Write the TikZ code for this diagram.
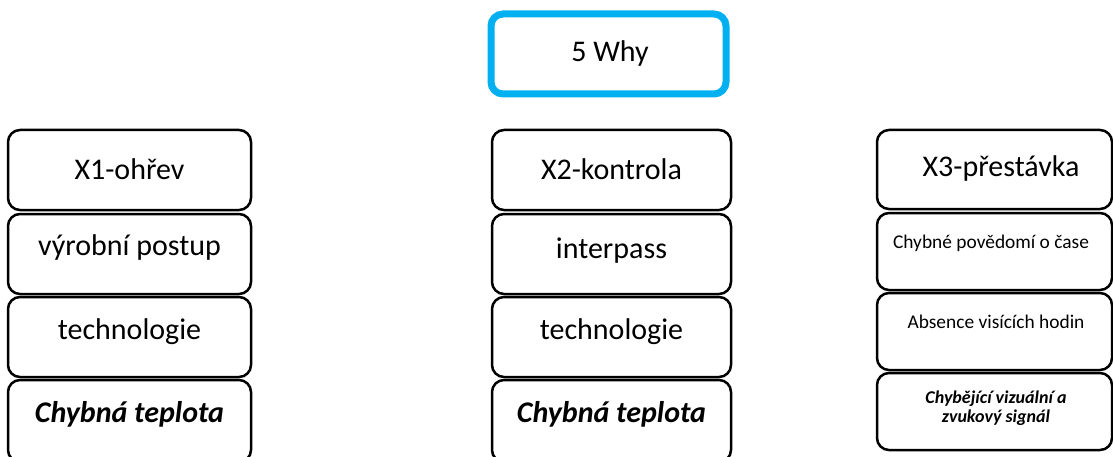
\documentclass[tikz,border=0pt]{standalone}
\usepackage{fontspec}
\setmainfont{Carlito}
\definecolor{whyblue}{HTML}{00B0F0}
\begin{document}
\begin{tikzpicture}[x=1pt,y=-1pt,
  box/.style={draw=black, line width=2.5pt, rounded corners=12pt, fill=white, inner sep=0pt, outer sep=0pt},
  topbox/.style={draw=whyblue, line width=7pt, rounded corners=12pt, fill=white, inner sep=0pt, outer sep=0pt},
  big/.style={font=\fontsize{30}{36}\selectfont, inner sep=0pt, anchor=base},
  bigbi/.style={font=\fontsize{30}{36}\selectfont\bfseries\itshape, inner sep=0pt, anchor=base},
  small/.style={font=\fontsize{19.4}{23}\selectfont, inner sep=0pt, anchor=base},
  smallbi/.style={font=\fontsize{18}{19.5}\selectfont\bfseries\itshape, inner sep=0pt, align=center}]
\useasboundingbox (0,0) rectangle (1113,457);
\fill[white] (0,0) rectangle (1113,457);

% top box
\node[topbox, minimum width=235pt, minimum height=80pt] (why) at (608.5,54) {};
\node[big] (twhy) at (610,62) {5 Why};

% left column
\node[box, minimum width=243pt, minimum height=80pt] (l1) at (129.5,170) {};
\node[box, minimum width=243pt, minimum height=80pt] (l2) at (129.5,254) {};
\node[box, minimum width=243pt, minimum height=80pt] (l3) at (129.5,337) {};
\node[box, minimum width=243pt, minimum height=82pt] (l4) at (129.5,421) {};
\node[big] (tl1) at (129.5,179) {X1-ohřev};
\node[big] (tl2) at (129.5,255) {výrobní postup};
\node[big] (tl3) at (129.5,339) {technologie};
\node[bigbi] (tl4) at (129.5,422) {Chybná teplota};

% middle column
\node[box, minimum width=239pt, minimum height=80pt] (m1) at (611.5,170) {};
\node[box, minimum width=239pt, minimum height=80pt] (m2) at (611.5,254) {};
\node[box, minimum width=239pt, minimum height=80pt] (m3) at (611.5,337) {};
\node[box, minimum width=239pt, minimum height=82pt] (m4) at (611.5,421) {};
\node[big] (tm1) at (611.5,179) {X2-kontrola};
\node[big] (tm2) at (611.5,258) {interpass};
\node[big] (tm3) at (611.5,339) {technologie};
\node[bigbi] (tm4) at (611.5,422) {Chybná teplota};

% right column
\node[box, minimum width=235pt, minimum height=79pt] (r1) at (994.5,169.5) {};
\node[box, minimum width=235pt, minimum height=77pt] (r2) at (994.5,251.5) {};
\node[box, minimum width=235pt, minimum height=77pt] (r3) at (994.5,331.5) {};
\node[box, minimum width=235pt, minimum height=77pt] (r4) at (994.5,411.5) {};
\node[big] (tr1) at (1001,177) {X3-přestávka};
\node[small] (tr2) at (991,248) {Chybné povědomí o čase};
\node[small] (tr3) at (996,328) {Absence visících hodin};
\node[smallbi] (tr4) at (996,408) {Chybějící vizuální a\\zvukový signál};
\end{tikzpicture}
\end{document}
